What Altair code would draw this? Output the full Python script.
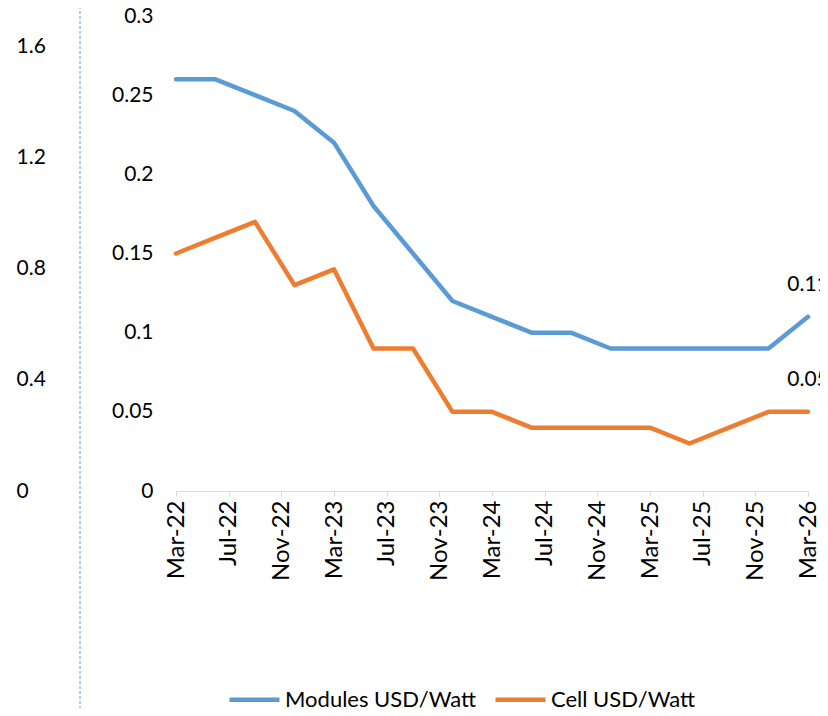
import json
import altair as alt
import pandas as pd

# ---------------- data ----------------
periods = ["Mar-22", "Jun-22", "Sep-22", "Dec-22", "Mar-23", "Jun-23", "Sep-23", "Dec-23",
           "Mar-24", "Jun-24", "Sep-24", "Dec-24", "Mar-25", "Jun-25", "Sep-25", "Dec-25", "Mar-26"]
modules_usd_watt = [0.26, 0.26, 0.25, 0.24, 0.22, 0.18, 0.15, 0.12,
                    0.11, 0.10, 0.10, 0.09, 0.09, 0.09, 0.09, 0.09, 0.11]
cell_usd_watt = [0.15, 0.16, 0.17, 0.13, 0.14, 0.09, 0.09, 0.05,
                 0.05, 0.04, 0.04, 0.04, 0.04, 0.03, 0.04, 0.05, 0.05]
x_tick_labels = ["Mar-22", "Jul-22", "Nov-22", "Mar-23", "Jul-23", "Nov-23", "Mar-24",
                 "Jul-24", "Nov-24", "Mar-25", "Jul-25", "Nov-25", "Mar-26"]
y_ticks = [0, 0.05, 0.1, 0.15, 0.2, 0.25, 0.3]
y2_ticks = [0, 0.4, 0.8, 1.2, 1.6]
series_names = ["Modules USD/Watt", "Cell USD/Watt"]
series_colors = ["#5B9BD5", "#ED7D31"]

MONTHS = {"Jan": 1, "Feb": 2, "Mar": 3, "Apr": 4, "May": 5, "Jun": 6,
          "Jul": 7, "Aug": 8, "Sep": 9, "Oct": 10, "Nov": 11, "Dec": 12}


def month_index(lbl):
    m, y = lbl.split("-")
    return (int(y) - 22) * 12 + MONTHS[m] - 3


rows = []
for p, mv, cv in zip(periods, modules_usd_watt, cell_usd_watt):
    rows.append({"m": month_index(p), "series": series_names[0], "value": mv})
    rows.append({"m": month_index(p), "series": series_names[1], "value": cv})
df = pd.DataFrame(rows)
last = df[df["m"] == df["m"].max()]

tick_vals = [month_index(l) for l in x_tick_labels]
label_expr = json.dumps(x_tick_labels) + "[round(datum.value / 4)]"

FONT = "Lato"
FS = 21

x_enc = alt.X(
    "m:Q",
    scale=alt.Scale(domain=[tick_vals[0], tick_vals[-1]], nice=False, zero=False),
    axis=alt.Axis(values=tick_vals, labelExpr=label_expr, labelAngle=-90, title=None,
                  grid=False, domainColor="#d9d9d9", tickColor="#d9d9d9", tickSize=5,
                  labelPadding=4, labelFontSize=24, labelFont=FONT, labelColor="black"),
)
y_enc = alt.Y(
    "value:Q",
    scale=alt.Scale(domain=[0, 0.3], nice=False),
    axis=alt.Axis(values=y_ticks, format=".2~f", grid=False, domain=False, ticks=False,
                  tickSize=0, labelPadding=23, labelFontSize=FS, labelFont=FONT,
                  labelColor="black", title=None),
)

lines = alt.Chart(df).mark_line(strokeWidth=4.5, strokeCap="round", strokeJoin="round").encode(
    x=x_enc,
    y=y_enc,
    color=alt.Color(
        "series:N",
        scale=alt.Scale(domain=series_names, range=series_colors),
        legend=alt.Legend(title=None, orient="none", legendX=51, legendY=656,
                          direction="horizontal", symbolType="stroke", symbolSize=2500,
                          symbolStrokeWidth=4.5, labelFontSize=22, labelFont=FONT,
                          labelColor="black", columnPadding=9, labelOffset=3,
                          labelLimit=500),
        sort=series_names,
    ),
    detail="series:N",
)

labels = alt.Chart(last).mark_text(dy=-32, fontSize=FS, font=FONT, color="black").encode(
    x=alt.X("m:Q"),
    y=alt.Y("value:Q"),
    text=alt.Text("value:Q", format=".2f"),
)

inner = alt.layer(lines, labels)

sec = alt.Chart(pd.DataFrame({"v": y2_ticks})).mark_point(opacity=0).encode(
    y=alt.Y("v:Q", scale=alt.Scale(domain=[0, 1.71], nice=False),
            axis=alt.Axis(orient="left", values=y2_ticks, format=".1~f", labelAlign="left",
                          labelPadding=160, domain=False, ticks=False, tickSize=0, grid=False,
                          title=None, labelFontSize=FS, labelFont=FONT, labelColor="black")),
)

rule = alt.Chart(pd.DataFrame({"a": [0]})).mark_rule(
    color="#5B9BD5", strokeDash=[3, 2], strokeWidth=1
).encode(x=alt.value(-96), y=alt.value(-20), y2=alt.value(720))

chart = alt.layer(inner, sec, rule).resolve_scale(y="independent").properties(
    width=632,
    height=475,
    autosize=alt.AutoSizeParams(type="none"),
    padding={"left": 168, "top": 8, "right": 12, "bottom": 217},
).configure_view(stroke=None)

chart.save("out.html", embed_options={"renderer": "svg", "actions": False})
